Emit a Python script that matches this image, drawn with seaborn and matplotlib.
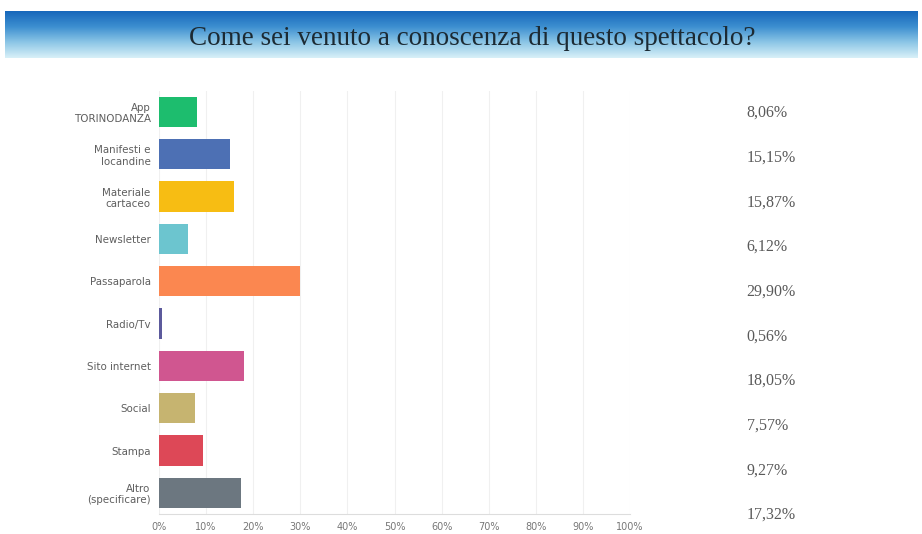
import numpy as np
import pandas as pd
import seaborn as sns
import matplotlib.pyplot as plt
from matplotlib.colors import LinearSegmentedColormap

# Data
categories = ['App\nTORINODANZA', 'Manifesti e\nlocandine', 'Materiale\ncartaceo', 'Newsletter',
              'Passaparola', 'Radio/Tv', 'Sito internet', 'Social', 'Stampa', 'Altro\n(specificare)']
percentages = [8.06, 15.15, 15.87, 6.12, 29.90, 0.56, 18.05, 7.57, 9.27, 17.32]
bar_colors = ['#1dbd6e', '#4d70b4', '#f7bd13', '#6cc5cf', '#fb8750',
              '#5c5a9c', '#d05690', '#c6b470', '#dd4857', '#6c7780']
x_ticks = list(range(0, 101, 10))
x_tick_labels = [f"{t}%" for t in x_ticks]
title = 'Come sei venuto a conoscenza di questo spettacolo?'

df = pd.DataFrame({'Risposta': categories, 'Percentuale': percentages})

W, H = 922, 534
fig = plt.figure(figsize=(W / 100, H / 100), dpi=100)
fig.patch.set_facecolor('white')

# Header band with blue gradient
ax_head = fig.add_axes([5 / W, 1 - 58 / H, 912 / W, 47 / H])
grad_cmap = LinearSegmentedColormap.from_list('head', ['#1767bb', '#3d8fd0', '#8cc6e6', '#d8f0f8'])
ax_head.imshow(np.linspace(0, 1, 100).reshape(-1, 1), aspect='auto', cmap=grad_cmap, extent=[0, 1, 0, 1])
ax_head.set_axis_off()
ax_head.text(0.512, 0.42, title, ha='center', va='center', fontsize=19.5,
             family='Liberation Serif', color='#1c2a33')

# Main bar chart
ax = fig.add_axes([159 / W, 1 - 514 / H, 471 / W, 423.3 / H])
sns.barplot(df, y='Risposta', x='Percentuale', hue='Risposta', palette=bar_colors,
            legend=False, width=0.71, ax=ax, orient='h', saturation=1)
ax.set_xlim(0, 100)
ax.set_ylim(9.5, -0.5)
ax.set_xticks(x_ticks)
ax.set_xticklabels(x_tick_labels, fontsize=7, color='#777777')
ax.tick_params(axis='x', length=0, pad=6)
ax.tick_params(axis='y', length=0, pad=6, labelsize=7.4, labelcolor='#5e5e5e')
for lbl in ax.get_yticklabels():
    lbl.set_horizontalalignment('right')
ax.grid(axis='x', color='#f0f0f0', linewidth=0.8)
ax.set_axisbelow(True)
for s in ['top', 'right', 'left']:
    ax.spines[s].set_visible(False)
ax.spines['bottom'].set_color('#dddddd')
ax.spines['bottom'].set_linewidth(0.8)
ax.set_xlabel('')
ax.set_ylabel('')

# Values column on the right
ax_val = fig.add_axes([700 / W, 1 - 537.4 / H, 222 / W, 446.7 / H])
ax_val.set_xlim(0, 1)
ax_val.set_ylim(9.5, -0.5)
ax_val.set_axis_off()
for i, v in enumerate(percentages):
    ax_val.text(0.21, i, f"{v:.2f}".replace('.', ',') + '%', ha='left', va='center',
                fontsize=11.5, family='Liberation Serif', color='#5a5a5a')

fig.savefig('out.png', dpi=100)
